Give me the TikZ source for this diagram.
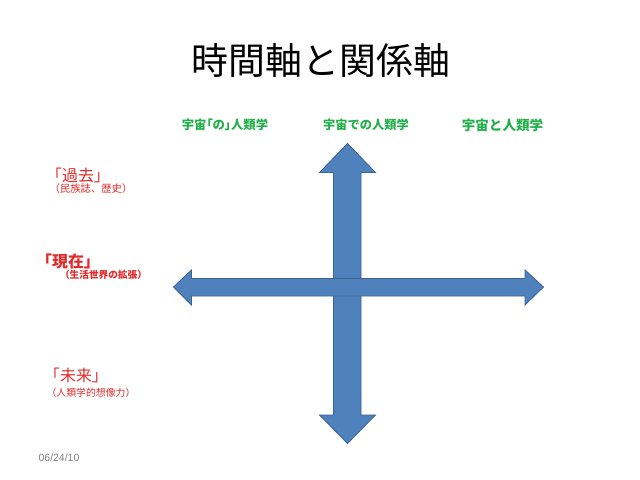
\documentclass[tikz,border=0pt]{standalone}
\usepackage{fontspec}
\newfontfamily\jp{Noto Sans CJK JP}
\newfontfamily\jpp{Noto Sans CJK JP}[RawFeature=+palt]
\setmainfont{Liberation Sans}
\definecolor{arrfill}{HTML}{4F81BD}
\definecolor{arrdraw}{HTML}{3A6396}
\definecolor{grn}{HTML}{22B04A}
\definecolor{rd}{HTML}{E42A2A}
\definecolor{dategray}{HTML}{808080}
\begin{document}
\begin{tikzpicture}[x=1bp,y=-1bp,
  bigarrow/.style={fill=arrfill,draw=arrdraw,line width=0.8bp,line join=miter},
  grnlabel/.style={text=grn,inner sep=0pt,font=\jp\bfseries},
  redbig/.style={text=rd,inner sep=0pt},
  redsmall/.style={text=rd,inner sep=0pt}]
\useasboundingbox[fill=white] (0,0) rectangle (640,480);
% title
\node[inner sep=0pt,font=\jp\fontsize{37}{40}\selectfont] (title) at (321,60) {時間軸と関係軸};
% green labels
\node[grnlabel,font=\jp\bfseries\fontsize{12.4}{14}\selectfont] (g1) at (225,125) {宇宙{\jpp\bfseries「の」}人類学};
\node[grnlabel,font=\jp\bfseries\fontsize{12.3}{14}\selectfont] (g2) at (366,125) {宇宙での人類学};
\node[grnlabel,font=\jp\bfseries\fontsize{13.6}{15}\selectfont] (g3) at (502.5,125) {宇宙と人類学};
% red labels
\node[redbig,font=\jp\fontsize{16}{18}\selectfont] (past) at (78,175) {「過去」};
\node[redsmall,font=\jp\fontsize{10.4}{12}\selectfont] (pastsub) at (91,189) {（民族誌、歴史）};
\node[redbig,font=\jp\bfseries\fontsize{16}{18}\selectfont] (now) at (68,261) {「現在」};
\node[redsmall,font=\jp\bfseries\fontsize{9.7}{11}\selectfont] (nowsub) at (103.5,275) {（生活世界の拡張）};
\node[redbig,font=\jp\fontsize{16}{18}\selectfont] (fut) at (76,375) {「未来」};
\node[redsmall,font=\jp\fontsize{9.9}{11}\selectfont] (futsub) at (91,392.7) {（人類学的想像力）};
% date
\node[inner sep=0pt,text=dategray,font=\fontsize{10.5}{12}\selectfont] (date) at (59,458) {06/24/10};
% vertical double arrow
\draw[bigarrow] (347.5,143.5) -- (375.5,172.5) -- (361,172.5) -- (361,415) -- (375.5,415)
  -- (347.5,443.5) -- (319.5,415) -- (333.5,415) -- (333.5,172.5) -- (319.5,172.5) -- cycle;
% horizontal double arrow
\draw[bigarrow] (173.5,287) -- (191.5,270) -- (191.5,278.5) -- (525,278.5) -- (525,270)
  -- (543.5,287) -- (525,305) -- (525,296) -- (191.5,296) -- (191.5,305) -- cycle;
\end{tikzpicture}
\end{document}
